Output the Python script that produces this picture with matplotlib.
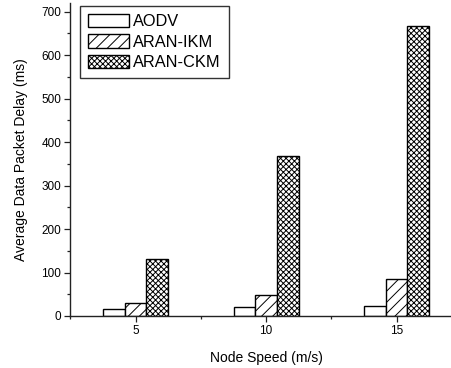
import matplotlib
matplotlib.use("Agg")
import matplotlib.pyplot as plt
import numpy as np
from matplotlib.ticker import MultipleLocator

plt.rcParams["font.family"] = ["Liberation Sans", "DejaVu Sans"]
plt.rcParams["hatch.linewidth"] = 0.7

node_speed = [5, 10, 15]
series_names = ["AODV", "ARAN-IKM", "ARAN-CKM"]
aodv_delay = [17, 21, 24]
ikm_delay = [29, 48, 84]
ckm_delay = [130, 369, 667]
hatches = ["", "///", "xxxxxx"]

W, H = 451, 368
fig = plt.figure(figsize=(W / 100, H / 100), dpi=100)
ax_left, ax_bottom = 70.4 / W, 52 / H
ax = fig.add_axes([ax_left, ax_bottom, 391.4 / W, 313 / H])

bar_width = 0.83
x = np.asarray(node_speed, dtype=float)
for i, (name, values) in enumerate(zip(series_names, [aodv_delay, ikm_delay, ckm_delay])):
    offset = (i - 1) * bar_width
    ax.bar(x + offset, values, width=bar_width, facecolor="white",
           edgecolor="black", linewidth=1.0, hatch=hatches[i], label=name)

ax.set_xlim(2.5, 17.5)
ax.set_ylim(0, 720)
ax.set_xticks(node_speed)
ax.xaxis.set_minor_locator(MultipleLocator(2.5))
ax.yaxis.set_major_locator(MultipleLocator(100))
ax.yaxis.set_minor_locator(MultipleLocator(50))

for side in ["top", "right"]:
    ax.spines[side].set_visible(False)
for side in ["left", "bottom"]:
    ax.spines[side].set_linewidth(1.0)
    ax.spines[side].set_color("#222222")

ax.tick_params(axis="both", which="major", direction="out", length=4, width=0.9,
               labelsize=8.5, pad=2.5, color="#222222")
ax.tick_params(axis="both", which="minor", direction="out", length=2.3, width=0.9,
               color="#222222")

ax.set_xlabel("Node Speed (m/s)", fontsize=10, labelpad=10)
ax.set_ylabel("Average Data Packet Delay (ms)", fontsize=10, labelpad=10)

leg = ax.legend(loc="upper left", bbox_to_anchor=(80 / W, 1 - 5.7 / H),
                bbox_transform=fig.transFigure, borderaxespad=0,
                fontsize=11.8, frameon=True, fancybox=False, shadow=False,
                handlelength=2.5, handleheight=0.9, handletextpad=0.25,
                labelspacing=0.3, borderpad=0.5)
leg.get_frame().set_edgecolor("black")
leg.get_frame().set_linewidth(1.0)

fig.savefig("out.png", dpi=100)
